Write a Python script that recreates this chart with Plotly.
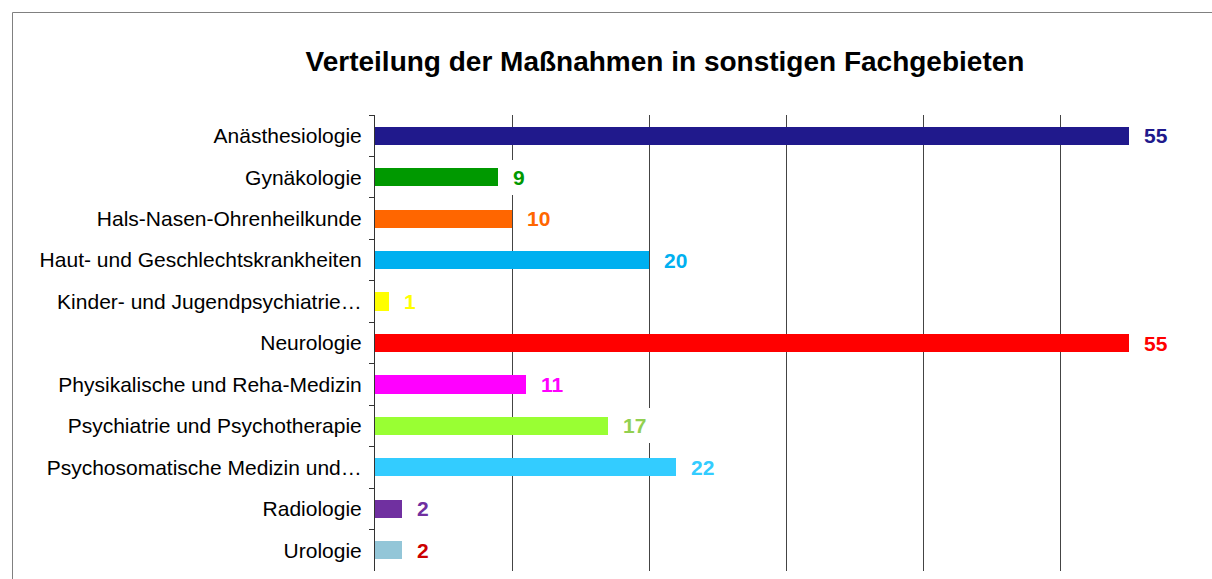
import plotly.graph_objects as go

categories = [
    "Anästhesiologie",
    "Gynäkologie",
    "Hals-Nasen-Ohrenheilkunde",
    "Haut- und Geschlechtskrankheiten",
    "Kinder- und Jugendpsychiatrie…",
    "Neurologie",
    "Physikalische und Reha-Medizin",
    "Psychiatrie und Psychotherapie",
    "Psychosomatische Medizin und…",
    "Radiologie",
    "Urologie",
]
values = [55, 9, 10, 20, 1, 55, 11, 17, 22, 2, 2]
bar_colors = ["#20198C", "#009900", "#FF6600", "#00B0F0", "#FFFF00", "#FF0000",
              "#FF00FF", "#99FF33", "#33CCFF", "#7030A0", "#93C6D8"]
label_colors = ["#20198C", "#009900", "#FF6600", "#00B0F0", "#FFFF00", "#FF0000",
                "#FF00FF", "#92D050", "#33CCFF", "#7030A0", "#CC0000"]
title_text = "Verteilung der Maßnahmen in sonstigen Fachgebieten"

W, H = 1212, 579
L, R, T, B = 375, 15, 115, 8
FONT = "Arial, Liberation Sans, sans-serif"

fig = go.Figure()
fig.add_trace(go.Bar(
    x=values, y=categories, orientation="h",
    marker=dict(color=bar_colors, line=dict(width=0)),
    width=0.44, hoverinfo="skip",
))

for cat, v, c in zip(categories, values, label_colors):
    fig.add_annotation(
        x=v, y=cat, xref="x", yref="y", text=f"<b>{v}</b>", showarrow=False,
        xanchor="left", yanchor="middle", xshift=9,
        font=dict(family=FONT, size=21, color=c),
        bgcolor="white", borderpad=6, borderwidth=0,
    )

pw = W - L - R
ph = H - T - B
def px_x(p):
    return (p - L) / pw
def px_y(p):
    return (H - B - p) / ph

fig.add_shape(type="line", xref="paper", yref="paper",
              x0=px_x(12.5), x1=px_x(12.5), y0=px_y(12.5), y1=px_y(700),
              line=dict(color="#808080", width=1))
fig.add_shape(type="line", xref="paper", yref="paper",
              x0=px_x(12.5), x1=px_x(1400), y0=px_y(12.5), y1=px_y(12.5),
              line=dict(color="#808080", width=1))

fig.update_layout(
    width=W, height=H,
    margin=dict(l=L, r=R, t=T, b=B, pad=0),
    paper_bgcolor="white", plot_bgcolor="white",
    showlegend=False,
    bargap=0,
    title=dict(text=f"<b>{title_text}</b>", x=665 / W, xanchor="center",
               y=1 - 61 / H, yanchor="middle", yref="container",
               font=dict(family=FONT, size=28, color="black")),
    xaxis=dict(range=[0, 60], dtick=10, showticklabels=False, showgrid=True,
               gridcolor="#444444", gridwidth=1, zeroline=False, showline=False,
               ticks=""),
    yaxis=dict(autorange=False, range=[10.5, -0.5], type="category",
               showline=True, linecolor="#333333", linewidth=1,
               ticks="outside", ticklen=5, tickcolor="#333333", tickson="boundaries",
               ticklabelstandoff=8, showgrid=False,
               tickfont=dict(family=FONT, size=21, color="black")),
)

fig.write_html("out.html")
